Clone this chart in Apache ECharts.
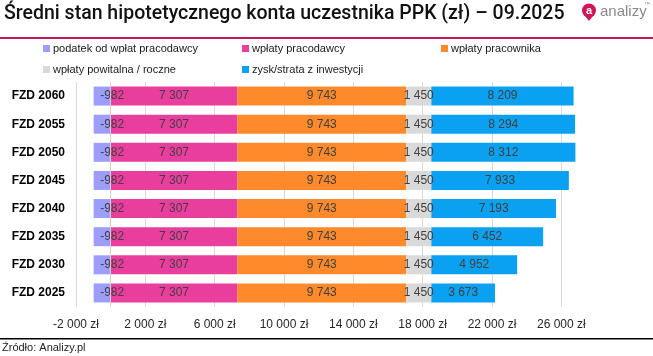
<!DOCTYPE html>
<html>
<head>
<meta charset="utf-8">
<script src="https://cdn.jsdelivr.net/npm/echarts@6/dist/echarts.min.js"></script>
<style>
html,body{margin:0;padding:0;background:#fff;}
#chart{width:653px;height:356px;}
</style>
</head>
<body>
<div id="chart"></div>
<script>
const titleText = 'Średni stan hipotetycznego konta uczestnika PPK (zł) – 09.2025';
const sourceText = 'Źródło: Analizy.pl';
const categories = ['FZD 2060','FZD 2055','FZD 2050','FZD 2045','FZD 2040','FZD 2035','FZD 2030','FZD 2025'];
const seriesNames = ['podatek od wpłat pracodawcy','wpłaty pracodawcy','wpłaty pracownika','wpłaty powitalna / roczne','zysk/strata z inwestycji'];
const podatek = [-982,-982,-982,-982,-982,-982,-982,-982];
const wplatyPracodawcy = [7307,7307,7307,7307,7307,7307,7307,7307];
const wplatyPracownika = [9743,9743,9743,9743,9743,9743,9743,9743];
const wplatyPowitalna = [1450,1450,1450,1450,1450,1450,1450,1450];
const zysk = [8209,8294,8312,7933,7193,6452,4952,3673];
const axisMin = -2000, axisMax = 28000, axisStep = 4000;

const colors = ['#9d9dfc','#ea3e9e','#ff8a2b','#d9d9d9','#0aa1f2'];
const FONT = '"Liberation Sans", Arial, sans-serif';

function fmt(v){
  const s = Math.abs(v).toString().replace(/\B(?=(\d{3})+(?!\d))/g,' ');
  return (v < 0 ? '-' : '') + s;
}

const dataSets = [podatek, wplatyPracodawcy, wplatyPracownika, wplatyPowitalna, zysk];

const series = dataSets.map((d, i) => {
  const s = {
    name: seriesNames[i],
    type: 'bar',
    stack: 'total',
    barWidth: 19,
    data: d,
    itemStyle: {color: colors[i]},
    label: {
      show: true,
      position: 'inside',
      color: '#404040',
      fontSize: 12,
      fontFamily: FONT,
      formatter: p => fmt(p.value)
    }
  };
  if (i === 0) {
    s.label.offset = [10, 0];
    s.markLine = {
      silent: true,
      symbol: ['none','none'],
      label: {show: false},
      lineStyle: {color: '#d0d0d0', type: 'solid', width: 1},
      data: [{xAxis: 0}]
    };
  }
  return s;
});

const legendPos = [
  {left: 43, top: 43},
  {left: 242, top: 43},
  {left: 441, top: 43},
  {left: 43, top: 64},
  {left: 242, top: 64}
];
const legends = seriesNames.map((n, i) => ({
  data: [n],
  left: legendPos[i].left,
  top: legendPos[i].top,
  padding: 0,
  icon: 'rect',
  itemWidth: 7,
  itemHeight: 7,
  selectedMode: false,
  textStyle: {fontSize: 11, fontFamily: FONT, color: '#1a1a1a', padding: [0,0,0,-2]}
}));

const chart = echarts.init(document.getElementById('chart'), null, {renderer: 'canvas'});
chart.setOption({
  animation: false,
  backgroundColor: '#fff',
  title: {
    text: titleText,
    left: 4,
    top: 4,
    padding: 0,
    textStyle: {fontFamily: 'Roboto, sans-serif', fontSize: 19.5, fontWeight: 500, color: '#111'}
  },
  legend: legends,
  grid: {left: 76, right: 57, top: 82, bottom: 49, containLabel: false},
  xAxis: {
    type: 'value',
    min: axisMin,
    max: axisMax,
    interval: axisStep,
    axisLine: {show: false},
    axisTick: {show: false},
    splitLine: {show: true, showMaxLine: false, lineStyle: {color: '#d9d9d9', width: 1}},
    axisLabel: {
      formatter: v => fmt(v) + ' zł',
      showMaxLabel: false,
      fontSize: 12,
      fontFamily: FONT,
      color: '#262626',
      margin: 12
    }
  },
  yAxis: {
    type: 'category',
    data: categories,
    inverse: true,
    axisLine: {show: false},
    axisTick: {show: false},
    splitLine: {show: false},
    axisLabel: {fontSize: 12, fontWeight: 'bold', fontFamily: FONT, color: '#000', margin: 11}
  },
  series: series,
  graphic: [
    {type: 'rect', left: 0, top: 37, shape: {width: 653, height: 2}, style: {fill: '#c2185b'}},
    {type: 'rect', left: 0, top: 338, shape: {width: 653, height: 1.5}, style: {fill: '#000'}},
    {type: 'text', left: 2, top: 342, style: {text: sourceText, font: '11px ' + FONT, fill: '#222'}},
    {type: 'polygon', shape: {points: [[585,16],[593,16],[589,21]]}, style: {fill: '#d0145a'}},
    {type: 'circle', shape: {cx: 589, cy: 10.5, r: 7}, style: {fill: '#d0145a'}},
    {type: 'text', x: 589, y: 10.5, style: {text: 'a', font: 'bold 11px ' + FONT, fill: '#fff', align: 'center', verticalAlign: 'middle'}},
    {type: 'text', x: 600, y: 12, style: {text: 'analizy', font: '15px ' + FONT, fill: '#8a8a8a', verticalAlign: 'middle'}},
    {type: 'text', x: 644, y: 4, style: {text: '™', font: '6px ' + FONT, fill: '#8a8a8a', verticalAlign: 'middle'}}
  ]
});
</script>
</body>
</html>
